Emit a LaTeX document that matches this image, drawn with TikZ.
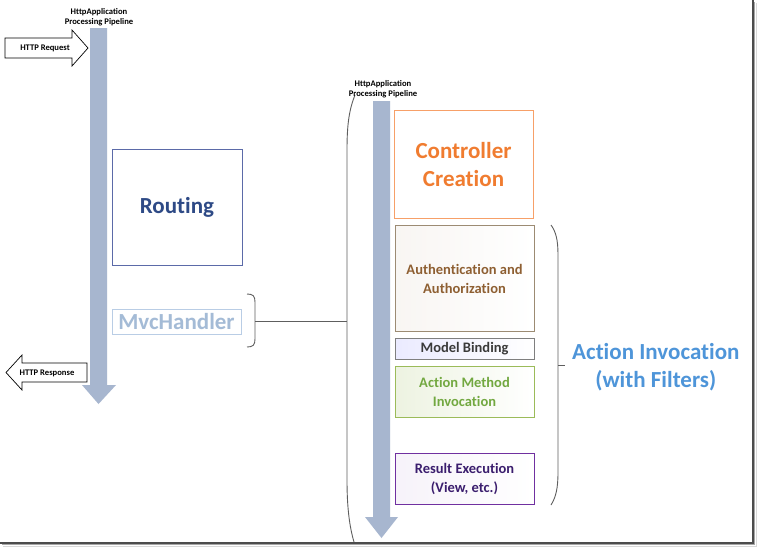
\documentclass[tikz,border=0pt]{standalone}
\usepackage{fontspec}
\setmainfont{Carlito}[Ligatures=NoCommon]
\begin{document}
\begin{tikzpicture}[x=1pt,y=-1pt,
  pipe/.style={fill=pipeblue,draw=none},
  bigtxt/.style={font=\bfseries\fontsize{23}{28}\selectfont,align=center},
  midtxt/.style={font=\bfseries\fontsize{14.5}{19}\selectfont,align=center},
  tinytxt/.style={font=\bfseries\fontsize{8.6}{10.5}\selectfont,align=center},
  stagebox/.style={rectangle,inner sep=0pt,line width=0.9pt,align=center},
  brace/.style={draw=braceg,line width=0.9pt},
  httparrow/.style={draw=black,line width=0.7pt,fill=white}]
\definecolor{pipeblue}{HTML}{A7B6CF}
\definecolor{braceg}{HTML}{5E5E5E}
\definecolor{routtxt}{HTML}{2E4A86}
\definecolor{routbrd}{HTML}{5B6AA8}
\definecolor{mvctxt}{HTML}{A4BBD6}
\definecolor{mvcbrd}{HTML}{B9CDE5}
\definecolor{ctrltxt}{HTML}{F07C30}
\definecolor{ctrlbrd}{HTML}{F7A068}
\definecolor{authtxt}{HTML}{8E5F32}
\definecolor{authbrd}{HTML}{9C8B73}
\definecolor{modeltxt}{HTML}{3A3A3A}
\definecolor{modelbrd}{HTML}{7F7F7F}
\definecolor{acttxt}{HTML}{72A840}
\definecolor{actbrd}{HTML}{9BBB59}
\definecolor{restxt}{HTML}{3B1E6E}
\definecolor{resbrd}{HTML}{7030A0}
\definecolor{invtxt}{HTML}{4E95D9}
\useasboundingbox (0,0) rectangle (757,547);
\fill[white] (0,0) rectangle (757,547);
% frame with shadow
\draw[line width=1.6pt,draw=black!70] (753,0) -- (753,543) -- (0,543);
\draw[line width=1pt,draw=black!35] (754.8,2) -- (754.8,544.8) -- (2,544.8);
\draw[line width=1pt,draw=black!15] (756,3) -- (756,546) -- (3,546);

% left pipeline
\fill[pipe] (90,28) -- (107,28) -- (107,385) -- (116,385) -- (98.5,404) -- (82,385) -- (90,385) -- cycle;
\node[tinytxt] (ttl1) at (99,17) {HttpApplication\\Processing Pipeline};

% HTTP request arrow
\draw[httparrow] (5,38) -- (72,38) -- (72,30) -- (88,48) -- (72,66) -- (72,58) -- (5,58) -- cycle;
\node[tinytxt] (req) at (45,48) {HTTP Request};
% HTTP response arrow
\draw[httparrow] (87,363) -- (22,363) -- (22,355) -- (6,372.5) -- (22,390) -- (22,382) -- (87,382) -- cycle;
\node[tinytxt] (resp) at (47,373) {HTTP Response};

% Routing
\node[stagebox,draw=routbrd,fill=white,minimum width=130pt,minimum height=116pt,bigtxt,text=routtxt] (routing) at (177,207.5) {Routing};
% MvcHandler
\node[stagebox,draw=mvcbrd,line width=0.7pt,fill=white,minimum width=129pt,minimum height=25pt,bigtxt,text=mvctxt] (mvc) at (176.5,321.5) {MvcHandler};
\draw[brace] (247,294) .. controls (253,294) and (255,296) .. (255,302) -- (255,339) .. controls (255,345) and (253,347) .. (247,347);
\coordinate (mvcbrace) at (255,321);
\coordinate (bigbrace) at (347,321);
\draw[brace] (mvcbrace) -- (bigbrace);

% big brace around right section
\draw[brace] (355,95) .. controls (349,110) and (347,125) .. (347,150) -- (347,480) .. controls (347,505) and (349,525) .. (354,542);

% right pipeline
\fill[pipe] (373,101) -- (390,101) -- (390,517) -- (398,517) -- (381.5,538) -- (365,517) -- (373,517) -- cycle;
\node[tinytxt] (ttl2) at (383,89) {HttpApplication\\Processing Pipeline};

% stages
\node[stagebox,draw=ctrlbrd,fill=white,minimum width=139pt,minimum height=108pt,bigtxt,text=ctrltxt] (ctrl) at (463.5,164.5) {Controller\\Creation};
\node[stagebox,draw=authbrd,left color=authtxt!6,right color=white,minimum width=139pt,minimum height=106pt,midtxt,text=authtxt] (auth) at (464.5,278.5) {Authentication and\\Authorization};
\node[stagebox,draw=modelbrd,left color=blue!8,right color=white,minimum width=139pt,minimum height=21pt,midtxt,text=modeltxt] (model) at (464.5,348.5) {Model Binding};
\node[stagebox,draw=actbrd,left color=actbrd!18,right color=white,minimum width=139pt,minimum height=51pt,midtxt,text=acttxt] (act) at (464.5,391.5) {Action Method\\Invocation};
\node[stagebox,draw=resbrd,left color=resbrd!6,right color=white,minimum width=139pt,minimum height=51pt,midtxt,text=restxt] (res) at (464.5,478.5) {Result Execution\\(View, etc.)};

% right brace
\draw[brace] (551,225) .. controls (556,232) and (558,240) .. (558,255) -- (558,472) .. controls (558,488) and (556,497) .. (551,505);
\coordinate (bracetick) at (565,365);
\draw[brace] (558,365) -- (bracetick);
\node[bigtxt,text=invtxt,anchor=west,inner sep=0pt] (inv) at (572,367) {Action Invocation\\(with Filters)};
\end{tikzpicture}
\end{document}
